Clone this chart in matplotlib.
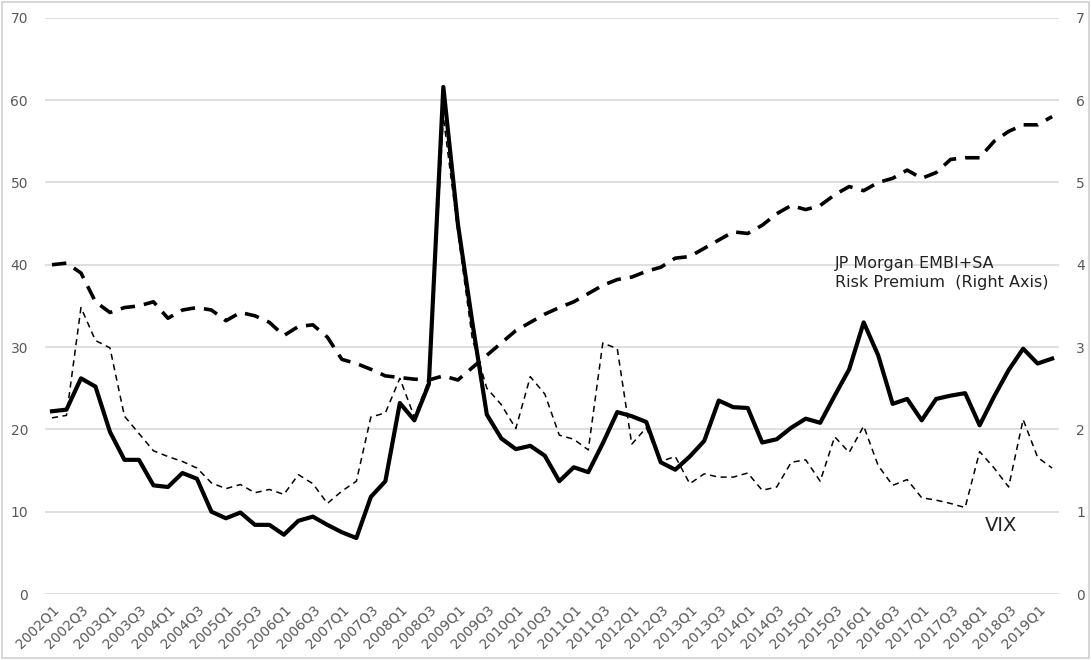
import numpy as np
import matplotlib.pyplot as plt

quarters = ['%dQ%d' % (y, q) for y in range(2002, 2020) for q in range(1, 5)][:70]

embi = [22.2, 22.4, 26.2, 25.2, 19.7, 16.3, 16.3, 13.2, 13.0, 14.7,
        14.0, 10.0, 9.2, 9.9, 8.4, 8.4, 7.2, 8.9, 9.4, 8.4,
        7.5, 6.8, 11.8, 13.7, 23.2, 21.1, 25.5, 61.6, 45.0, 33.0,
        21.8, 18.9, 17.6, 18.0, 16.8, 13.7, 15.4, 14.8, 18.3, 22.1,
        21.6, 20.9, 16.0, 15.1, 16.7, 18.6, 23.5, 22.7, 22.6, 18.4,
        18.8, 20.2, 21.3, 20.8, 24.1, 27.3, 33.0, 29.0, 23.1, 23.7,
        21.1, 23.7, 24.1, 24.4, 20.5, 24.0, 27.2, 29.8, 28.0, 28.6]
embi = [v / 10 for v in embi]  # right axis

vix = [21.4, 21.7, 34.8, 30.8, 29.9, 21.6, 19.5, 17.4, 16.7, 16.1,
       15.3, 13.5, 12.8, 13.3, 12.3, 12.7, 12.1, 14.5, 13.4, 11.0,
       12.5, 13.7, 21.5, 22.0, 26.2, 21.5, 26.0, 58.0, 44.0, 31.0,
       25.0, 23.0, 20.1, 26.4, 24.3, 19.3, 18.8, 17.5, 30.5, 29.8,
       18.2, 20.2, 16.1, 16.7, 13.4, 14.6, 14.2, 14.2, 14.7, 12.6,
       13.0, 16.0, 16.3, 13.7, 19.1, 17.2, 20.4, 15.6, 13.2, 13.9,
       11.7, 11.4, 11.0, 10.5, 17.3, 15.3, 13.0, 21.2, 16.6, 15.3]

other = [4.00, 4.02, 3.90, 3.55, 3.42, 3.48, 3.50, 3.55, 3.35, 3.45,
         3.48, 3.45, 3.32, 3.42, 3.38, 3.30, 3.14, 3.25, 3.27, 3.12,
         2.85, 2.80, 2.73, 2.65, 2.63, 2.61, 2.60, 2.65, 2.60, 2.75,
         2.90, 3.05, 3.20, 3.30, 3.40, 3.48, 3.55, 3.65, 3.75, 3.82,
         3.85, 3.92, 3.97, 4.08, 4.10, 4.20, 4.30, 4.40, 4.38, 4.48,
         4.62, 4.72, 4.67, 4.72, 4.85, 4.95, 4.90, 5.00, 5.05, 5.15,
         5.05, 5.12, 5.28, 5.30, 5.30, 5.50, 5.62, 5.70, 5.70, 5.80]

x = np.arange(len(quarters))
fig = plt.figure(figsize=(10.91, 6.6), dpi=100)
fig.patches.append(plt.Rectangle((0.002, 0.003), 0.996, 0.994, transform=fig.transFigure,
                                 fill=False, edgecolor='#d0d0d0', lw=1.2))
ax = fig.add_axes([0.041, 0.1, 0.93, 0.873])
ax2 = ax.twinx()

ax.plot(x, vix, color='black', lw=1.1, ls=(0, (4, 3)))
ax2.plot(x, embi, color='black', lw=3.0)
ax2.plot(x, other, color='black', lw=2.6, ls=(0, (4, 2.5)))

ax.set_ylim(0, 70)
ax2.set_ylim(0, 7)
ax.set_xlim(-0.5, 69.5)
ax.set_yticks(range(0, 71, 10))
ax2.set_yticks(range(0, 8))
ax.set_xticks(x[::2])
ax.set_xticklabels(quarters[::2], rotation=45, ha='right', rotation_mode='anchor')
ax.grid(axis='y', color='#d9d9d9', lw=1.2)
ax.set_axisbelow(True)
for a in (ax, ax2):
    for s in a.spines.values():
        s.set_visible(False)
    a.tick_params(length=0, colors='#595959', labelsize=10)
ax.tick_params(axis='x', pad=6)
ax.tick_params(axis='y', pad=12)
ax2.tick_params(axis='y', pad=12)

ax2.text(54.0, 3.9, 'JP Morgan EMBI+SA\nRisk Premium  (Right Axis)', fontsize=11.5,
         va='center', linespacing=1.4, color='#222222')
ax.text(65.5, 8.3, 'VIX', fontsize=14, ha='center', va='center', color='#222222')

plt.savefig('out.png')
